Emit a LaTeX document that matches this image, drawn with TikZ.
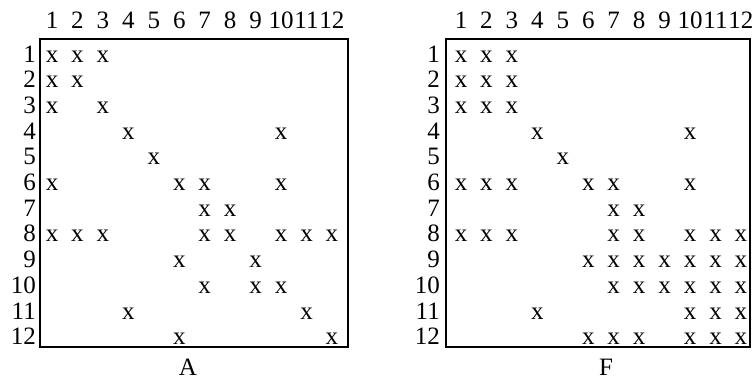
\documentclass[tikz,border=0pt]{standalone}
\usepackage{fontspec}
\setmainfont{Liberation Serif}
\usetikzlibrary{positioning}

\begin{document}
\begin{tikzpicture}[x=1pt, y=-1pt,
   every node/.style={inner sep=0pt, font=\fontsize{25}{30}\selectfont},
   entry/.style={anchor=base},
   rowlab/.style={anchor=base east},
   frame/.style={draw, line width=2.4pt, minimum height=308pt}]
   \useasboundingbox (0,0) rectangle (753,381);

   % matrix A
   \node[frame, minimum width=308pt] (boxA) at (194,193) {};
   \foreach \c in {1,...,12}
      \node[entry] (Acol\c) at ({52+25.45*(\c-1)},28) {\c};
   \foreach \r in {1,...,12}
      \node[rowlab] (Arow\r) at (36,{62+25.7*(\r-1)}) {\r};
   \foreach \r/\cols in {1/{1,2,3}, 2/{1,2}, 3/{1,3}, 4/{4,10}, 5/{5},
         6/{1,6,7,10}, 7/{7,8}, 8/{1,2,3,7,8,10,11,12}, 9/{6,9},
         10/{7,9,10}, 11/{4,11}, 12/{6,12}}
      \foreach \c in \cols
         \node[entry] (A-\r-\c) at ({52+25.45*(\c-1)},{62+25.7*(\r-1)}) {x};
   \node (capA) [below=11pt of boxA, xshift=-6pt] {A};

   % matrix F
   \node[frame, minimum width=304pt] (boxF) at (598,193) {};
   \foreach \c in {1,...,12}
      \node[entry] (Fcol\c) at ({461+25.45*(\c-1)},28) {\c};
   \foreach \r in {1,...,12}
      \node[rowlab] (Frow\r) at (440,{62+25.7*(\r-1)}) {\r};
   \foreach \r/\cols in {1/{1,2,3}, 2/{1,2,3}, 3/{1,2,3}, 4/{4,10}, 5/{5},
         6/{1,2,3,6,7,10}, 7/{7,8}, 8/{1,2,3,7,8,10,11,12},
         9/{6,7,8,9,10,11,12}, 10/{7,8,9,10,11,12}, 11/{4,10,11,12},
         12/{6,7,8,10,11,12}}
      \foreach \c in \cols
         \node[entry] (F-\r-\c) at ({461+25.45*(\c-1)},{62+25.7*(\r-1)}) {x};
   \node (capF) [below=11pt of boxF, xshift=8pt] {F};
\end{tikzpicture}
\end{document}
